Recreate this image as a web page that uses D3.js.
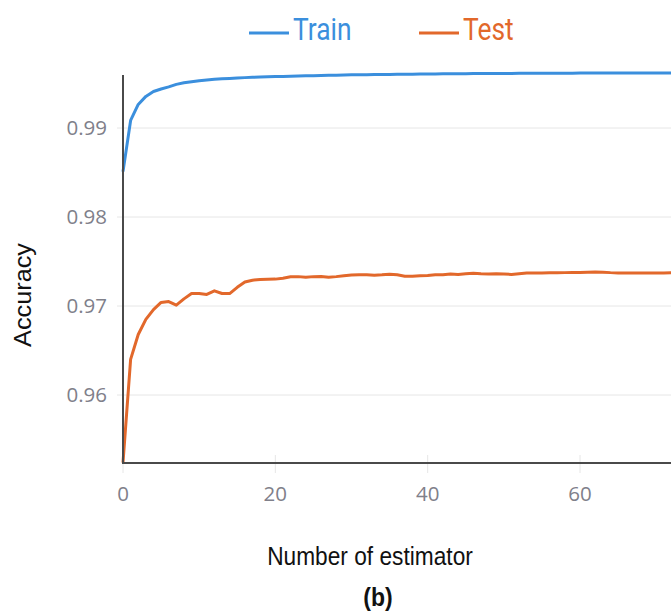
<!DOCTYPE html>
<html>
<head>
<meta charset="utf-8">
<script src="https://cdn.jsdelivr.net/npm/d3@7/dist/d3.min.js"></script>
<style>
  html, body { margin: 0; padding: 0; background: #fff; }
  svg { display: block; }
</style>
</head>
<body>
<svg id="chart" width="671" height="614"></svg>
<script>
// ---------- data ----------
const estimators = [0,1,2,3,4,5,6,7,8,9,10,11,12,13,14,15,16,17,18,19,20,21,22,23,24,25,26,27,28,29,30,31,32,33,34,35,36,37,38,39,40,41,42,43,44,45,46,47,48,49,50,51,52,53,54,55,56,57,58,59,60,61,62,63,64,65,66,67,68,69,70,71,72];
const trainAcc = [0.98510,0.99085,0.99265,0.99355,0.99410,0.99438,0.99462,0.99490,0.99508,0.99520,0.99532,0.99540,0.99547,0.99552,0.99557,0.99562,0.99566,0.99570,0.99573,0.99576,0.99578,0.99580,0.99582,0.99584,0.99586,0.99588,0.99590,0.99592,0.99594,0.99596,0.99597,0.99598,0.99599,0.99600,0.99601,0.99602,0.99603,0.99604,0.99605,0.99606,0.99607,0.99608,0.99609,0.99609,0.99610,0.99610,0.99611,0.99611,0.99612,0.99612,0.99613,0.99613,0.99614,0.99614,0.99614,0.99615,0.99615,0.99615,0.99616,0.99616,0.99617,0.99617,0.99618,0.99618,0.99618,0.99617,0.99617,0.99617,0.99617,0.99617,0.99617,0.99617,0.99617];
const testAcc = [0.95240,0.96400,0.96680,0.96850,0.96960,0.97040,0.97050,0.97010,0.97080,0.97140,0.97140,0.97130,0.97170,0.97140,0.97140,0.97210,0.97270,0.97290,0.97298,0.97300,0.97302,0.97312,0.97328,0.97330,0.97322,0.97330,0.97332,0.97322,0.97330,0.97340,0.97348,0.97350,0.97350,0.97345,0.97350,0.97358,0.97350,0.97335,0.97333,0.97340,0.97342,0.97350,0.97352,0.97360,0.97355,0.97362,0.97368,0.97362,0.97360,0.97362,0.97360,0.97355,0.97362,0.97370,0.97372,0.97372,0.97373,0.97374,0.97375,0.97376,0.97377,0.97380,0.97382,0.97380,0.97375,0.97372,0.97370,0.97370,0.97371,0.97372,0.97372,0.97372,0.97373];
const seriesNames = ["Train", "Test"];
const xTicks = [0, 20, 40, 60];
const yTicks = [0.96, 0.97, 0.98, 0.99];
const xLabel = "Number of estimator";
const yLabel = "Accuracy";
const caption = "(b)";

// ---------- layout ----------
const svg = d3.select("#chart");
const colors = { Train: "#3b8fdd", Test: "#e2682b" };
const plotLeft = 123, plotBottom = 463, plotTop = 75;

const x = d3.scaleLinear().domain([0, 60]).range([plotLeft, 580]);
const y = d3.scaleLinear().domain([0.96, 0.99]).range([395, 128]);

// horizontal gridlines
svg.append("g").selectAll("line").data(yTicks).join("line")
  .attr("x1", plotLeft - 6).attr("x2", 671)
  .attr("y1", d => y(d)).attr("y2", d => y(d))
  .attr("stroke", "#e6e6e6").attr("stroke-width", 1);

// x tick marks (light, crossing axis)
svg.append("g").selectAll("line").data(xTicks).join("line")
  .attr("x1", d => x(d)).attr("x2", d => x(d))
  .attr("y1", plotBottom - 8).attr("y2", plotBottom + 10)
  .attr("stroke", "#e6e6e6").attr("stroke-width", 1);

// y tick labels
svg.append("g").selectAll("text").data(yTicks).join("text")
  .attr("x", 107).attr("y", d => y(d))
  .attr("dy", "0.36em")
  .attr("text-anchor", "end")
  .attr("font-family", "'Open Sans', sans-serif")
  .attr("font-size", 20.5)
  .attr("fill", "#80808a")
  .text(d => d3.format(".2f")(d));

// x tick labels
svg.append("g").selectAll("text").data(xTicks).join("text")
  .attr("x", d => x(d)).attr("y", 494)
  .attr("dy", "0.36em")
  .attr("text-anchor", "middle")
  .attr("font-family", "'Open Sans', sans-serif")
  .attr("font-size", 20.5)
  .attr("fill", "#80808a")
  .text(d => d);

// lines
const line = d3.line().x((d, i) => x(estimators[i])).y(d => y(d));
const series = [
  { name: "Test", values: testAcc },
  { name: "Train", values: trainAcc }
];
svg.append("g").selectAll("path").data(series).join("path")
  .attr("d", d => line(d.values))
  .attr("fill", "none")
  .attr("stroke", d => colors[d.name])
  .attr("stroke-width", 3)
  .attr("stroke-linejoin", "round");

// axis lines
svg.append("line")
  .attr("x1", plotLeft).attr("x2", plotLeft)
  .attr("y1", plotTop).attr("y2", plotBottom)
  .attr("stroke", "#4a4a4a").attr("stroke-width", 2);
svg.append("line")
  .attr("x1", plotLeft - 1).attr("x2", 671)
  .attr("y1", plotBottom).attr("y2", plotBottom)
  .attr("stroke", "#4a4a4a").attr("stroke-width", 2);

// legend
const legendPos = { Train: 249, Test: 419 };
const lg = svg.append("g").selectAll("g").data(seriesNames).join("g")
  .attr("transform", d => `translate(${legendPos[d]},0)`);
lg.append("line")
  .attr("x1", 0).attr("x2", 40).attr("y1", 33).attr("y2", 33)
  .attr("stroke", d => colors[d]).attr("stroke-width", 3);
lg.append("text")
  .attr("transform", "translate(44,39.5) scale(0.85,1.03)")
  .attr("font-family", "Roboto, sans-serif")
  .attr("font-size", 31)
  .attr("fill", d => colors[d])
  .text(d => d);

// axis titles
svg.append("text")
  .attr("transform", "translate(370,565) scale(1,1.1)")
  .attr("text-anchor", "middle")
  .attr("font-family", "'Liberation Sans', Arial, sans-serif")
  .attr("font-size", 22.7)
  .attr("fill", "#111")
  .text(xLabel);

svg.append("text")
  .attr("transform", "translate(31,295) scale(1,1.1) rotate(-90)")
  .attr("text-anchor", "middle")
  .attr("font-family", "'Liberation Sans', Arial, sans-serif")
  .attr("font-size", 23)
  .attr("fill", "#111")
  .text(yLabel);

svg.append("text")
  .attr("transform", "translate(378,606) scale(1,1.1)")
  .attr("text-anchor", "middle")
  .attr("font-family", "'Liberation Sans', Arial, sans-serif")
  .attr("font-size", 23)
  .attr("font-weight", "bold")
  .attr("fill", "#111")
  .text(caption);
</script>
</body>
</html>
